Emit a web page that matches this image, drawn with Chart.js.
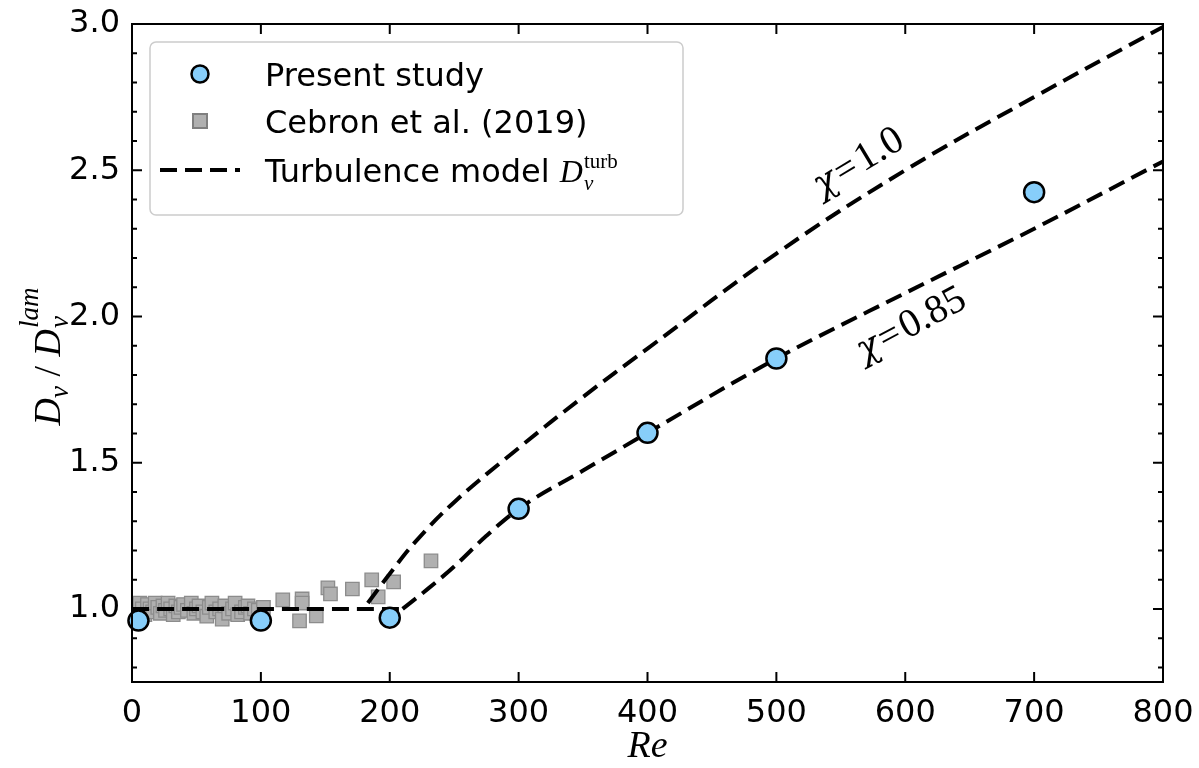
<!DOCTYPE html>
<html>
<head>
<meta charset="utf-8">
<script src="https://cdn.jsdelivr.net/npm/chart.js@4.4.1/dist/chart.umd.min.js"></script>
<style>
  html, body { margin: 0; padding: 0; background: #fff; }
  #wrap { width: 1199px; height: 768px; }
</style>
</head>
<body>
<div id="wrap"><canvas id="myChart" width="1199" height="768"></canvas></div>
<script>
// Present study (blue circles)
const presentRe = [5, 100, 200, 300, 400, 500, 700];
const presentD = [0.96, 0.96, 0.97, 1.342, 1.602, 1.856, 2.425];

// Cebron et al. (2019) (grey squares)
const cebronRe = [2, 4, 6, 8, 10, 12, 14, 16, 18, 20, 22, 24, 26, 28, 30, 32, 34, 36, 38, 40,
    43, 46, 48, 50, 52, 55, 58, 60, 62, 65, 68, 70, 72, 75, 78, 80, 82, 85, 88, 90,
    92, 95, 98, 102, 117, 132, 132, 130, 143, 152, 154, 171, 186, 191, 203, 232];
const cebronD = [1.01, 0.99, 1.02, 1.0, 0.98, 1.015, 1.0, 0.99, 1.02, 1.005, 0.985, 1.01, 0.995, 1.02, 1.0, 0.98, 1.01, 0.99, 1.005, 1.015,
    0.995, 1.02, 0.985, 1.0, 1.01, 0.99, 0.975, 1.005, 1.02, 0.99, 1.0, 0.965, 1.01, 0.985, 1.0, 1.02, 0.98, 0.99, 1.005, 1.01,
    0.985, 1.0, 0.995, 1.005, 1.031, 1.034, 1.02, 0.959, 0.976, 1.072, 1.051, 1.068, 1.099, 1.041, 1.092, 1.164];

// Turbulence model, chi = 0.85: laminar plateau, then turbulent branch
const flatRe = [0, 210];
const flatD = [1.0, 1.0];
const model085Re = [210, 230, 250, 275, 300, 350, 400, 500, 600, 700, 800];
const model085D = [1.0, 1.07, 1.145, 1.25, 1.342, 1.473, 1.602, 1.856, 2.08, 2.30, 2.53];

// Turbulence model, chi = 1.0
const model10Re = [183, 200, 220, 250, 300, 350, 400, 500, 600, 700, 800];
const model10D = [1.02, 1.12, 1.23, 1.365, 1.55, 1.725, 1.89, 2.215, 2.50, 2.75, 2.99];

const xTicks = [0, 100, 200, 300, 400, 500, 600, 700, 800];
const yTicks = [1.0, 1.5, 2.0, 2.5, 3.0];
const yTickLabels = ['1.0', '1.5', '2.0', '2.5', '3.0'];
const yMinorTicks = [0.8, 0.9, 1.1, 1.2, 1.3, 1.4, 1.6, 1.7, 1.8, 1.9, 2.1, 2.2, 2.3, 2.4, 2.6, 2.7, 2.8, 2.9];

const SANS = '"DejaVu Sans"';
const SERIF = '"Liberation Serif"';
const DASH = [17, 8];

function toPoints(xs, ys) {
    return xs.map((x, i) => ({ x: x, y: ys[i] }));
}

// draws a run of text pieces one after another, each with its own font, shift and gap
function drawPieces(ctx, pieces, x, y) {
    let cx = x;
    pieces.forEach(p => {
        ctx.font = p.font;
        cx += p.gap || 0;
        ctx.fillText(p.t, cx, y + (p.dy || 0));
        cx += ctx.measureText(p.t).width;
    });
    return cx - x;
}

function piecesWidth(ctx, pieces) {
    let w = 0;
    ctx.save();
    pieces.forEach(p => {
        ctx.font = p.font;
        w += ctx.measureText(p.t).width + (p.gap || 0);
    });
    ctx.restore();
    return w;
}

function noScalePadding(scale) {
    scale.paddingTop = 0;
    scale.paddingBottom = 0;
    scale.paddingLeft = 0;
    scale.paddingRight = 0;
}

const frameTicks = {
    id: 'frameTicks',
    afterDatasetsDraw(chart) {
        const { ctx, chartArea: a, scales: { x, y } } = chart;
        ctx.save();
        ctx.strokeStyle = '#000';
        ctx.lineWidth = 2;
        ctx.setLineDash([]);
        ctx.beginPath();
        xTicks.forEach(v => {
            const px = x.getPixelForValue(v);
            ctx.moveTo(px, a.bottom); ctx.lineTo(px, a.bottom - 10);
            ctx.moveTo(px, a.top); ctx.lineTo(px, a.top + 10);
        });
        yTicks.forEach(v => {
            const py = y.getPixelForValue(v);
            ctx.moveTo(a.left, py); ctx.lineTo(a.left + 10, py);
            ctx.moveTo(a.right, py); ctx.lineTo(a.right - 10, py);
        });
        yMinorTicks.forEach(v => {
            const py = y.getPixelForValue(v);
            ctx.moveTo(a.left, py); ctx.lineTo(a.left + 5, py);
            ctx.moveTo(a.right, py); ctx.lineTo(a.right - 5, py);
        });
        ctx.stroke();
        ctx.strokeRect(a.left, a.top, a.right - a.left, a.bottom - a.top);

        // chi labels along the two model curves
        ctx.fillStyle = '#000';
        ctx.textBaseline = 'alphabetic';
        const labels = [
            { re: 563, d: 2.53, ang: -31, num: '1.0' },
            { re: 604, d: 1.975, ang: -28, num: '0.85' }
        ];
        labels.forEach(l => {
            const pieces = [
                { t: '\u03C7', font: 'italic 36px "DejaVu Serif"' },
                { t: '=', font: '38px ' + SERIF, gap: 3 },
                { t: l.num, font: '40px ' + SERIF, gap: 3 }
            ];
            const w = piecesWidth(ctx, pieces);
            ctx.save();
            ctx.translate(x.getPixelForValue(l.re), y.getPixelForValue(l.d));
            ctx.rotate(l.ang * Math.PI / 180);
            drawPieces(ctx, pieces, -w / 2, 12);
            ctx.restore();
        });

        // axis titles
        ctx.save();
        ctx.font = 'italic 38px ' + SERIF;
        ctx.textAlign = 'center';
        ctx.fillText('Re', (a.left + a.right) / 2, 757);
        ctx.restore();

        ctx.save();
        ctx.translate(48, 356);
        ctx.rotate(-Math.PI / 2);
        ctx.textAlign = 'left';
        const yt = [
            { t: 'D', font: 'italic 38px ' + SERIF },
            { t: '\u03BD', font: 'italic 27px ' + SERIF, dy: 8 },
            { t: ' / ', font: '38px ' + SERIF },
            { t: 'D', font: 'italic 38px ' + SERIF }
        ];
        const w1 = piecesWidth(ctx, yt);
        ctx.font = 'italic 27px ' + SERIF;
        const wNu = ctx.measureText('\u03BD').width;
        const wLam = ctx.measureText('lam').width;
        const total = w1 + Math.max(wNu, wLam) + 2;
        const x0 = -total / 2;
        drawPieces(ctx, yt, x0, 12);
        ctx.font = 'italic 27px ' + SERIF;
        ctx.fillText('\u03BD', x0 + w1 + 1, 20);
        ctx.fillText('lam', x0 + w1 + 1, -10);
        ctx.restore();

        ctx.restore();
    },
    afterDraw(chart) {
        const ctx = chart.ctx;
        ctx.save();
        // legend frame
        const bx = 150, by = 42, bw = 533, bh = 173, r = 6;
        ctx.beginPath();
        ctx.moveTo(bx + r, by);
        ctx.arcTo(bx + bw, by, bx + bw, by + bh, r);
        ctx.arcTo(bx + bw, by + bh, bx, by + bh, r);
        ctx.arcTo(bx, by + bh, bx, by, r);
        ctx.arcTo(bx, by, bx + bw, by, r);
        ctx.closePath();
        ctx.fillStyle = 'rgba(255,255,255,0.8)';
        ctx.fill();
        ctx.strokeStyle = '#cccccc';
        ctx.lineWidth = 1.5;
        ctx.stroke();

        // markers
        ctx.beginPath();
        ctx.arc(200, 74, 8.5, 0, Math.PI * 2);
        ctx.fillStyle = '#87cefa';
        ctx.fill();
        ctx.lineWidth = 2.5;
        ctx.strokeStyle = '#000';
        ctx.stroke();

        ctx.fillStyle = '#b0b0b0';
        ctx.fillRect(193, 114, 14, 14);
        ctx.strokeStyle = '#7f7f7f';
        ctx.lineWidth = 2;
        ctx.strokeRect(193, 114, 14, 14);

        ctx.beginPath();
        ctx.setLineDash(DASH);
        ctx.lineWidth = 4;
        ctx.strokeStyle = '#000';
        ctx.moveTo(160, 170);
        ctx.lineTo(240, 170);
        ctx.stroke();
        ctx.setLineDash([]);

        // texts
        ctx.fillStyle = '#000';
        ctx.textBaseline = 'alphabetic';
        ctx.font = '32px ' + SANS;
        ctx.fillText('Present study', 265, 86);
        ctx.fillText('Cebron et al. (2019)', 265, 133);
        const tw = drawPieces(ctx, [{ t: 'Turbulence model ', font: '32px ' + SANS }], 265, 182);
        ctx.font = 'italic 32px ' + SERIF;
        ctx.fillText('D', 265 + tw, 182);
        const dw = ctx.measureText('D').width;
        ctx.font = 'italic 21px ' + SERIF;
        ctx.fillText('\u03BD', 265 + tw + dw + 1, 190);
        ctx.font = '21px ' + SERIF;
        ctx.fillText('turb', 265 + tw + dw + 1, 168);
        ctx.restore();
    }
};

const dashedLine = (label, xs, ys, mode) => ({
    label: label,
    data: toPoints(xs, ys),
    showLine: true,
    pointRadius: 0,
    borderColor: '#000',
    borderWidth: 4,
    borderDash: DASH,
    tension: 0.4,
    cubicInterpolationMode: mode,
    order: 1
});

const ctx = document.getElementById('myChart').getContext('2d');

let myChart = new Chart(ctx, {
    type: 'scatter',
    data: {
        datasets: [
            {
                label: 'Present study',
                data: toPoints(presentRe, presentD),
                pointStyle: 'circle',
                pointRadius: 10,
                pointBackgroundColor: '#87cefa',
                pointBorderColor: '#000',
                pointBorderWidth: 2.5,
                order: 0,
                clip: 12
            },
            dashedLine('Laminar plateau', flatRe, flatD, 'default'),
            dashedLine('Turbulence model chi=0.85', model085Re, model085D, 'monotone'),
            dashedLine('Turbulence model chi=1.0', model10Re, model10D, 'default'),
            {
                label: 'Cebron et al. (2019)',
                data: toPoints(cebronRe, cebronD),
                pointStyle: 'rect',
                pointRadius: 9.5,
                pointBackgroundColor: '#b0b0b0',
                pointBorderColor: '#8c8c8c',
                pointBorderWidth: 1.3,
                order: 2
            }
        ]
    },
    options: {
        responsive: false,
        animation: false,
        devicePixelRatio: 1,
        layout: { padding: { top: 24, right: 36, left: 0, bottom: 0 } },
        plugins: {
            legend: { display: false },
            tooltip: { enabled: false }
        },
        scales: {
            x: {
                type: 'linear',
                min: 0,
                max: 800,
                afterBuildTicks: scale => { scale.ticks = xTicks.map(v => ({ value: v })); },
                afterFit: scale => { scale.height = 86; noScalePadding(scale); },
                grid: { display: false, drawTicks: false },
                border: { display: false },
                ticks: {
                    color: '#000',
                    padding: 12,
                    maxRotation: 0,
                    font: { family: 'DejaVu Sans', size: 32 }
                }
            },
            y: {
                type: 'linear',
                min: 0.75,
                max: 3.0,
                afterBuildTicks: scale => { scale.ticks = yTicks.map(v => ({ value: v })); },
                afterFit: scale => { scale.width = 132; noScalePadding(scale); },
                grid: { display: false, drawTicks: false },
                border: { display: false },
                ticks: {
                    color: '#000',
                    padding: 12,
                    font: { family: 'DejaVu Sans', size: 32 },
                    callback: (v, i) => yTickLabels[i]
                }
            }
        }
    },
    plugins: [frameTicks]
});
</script>
</body>
</html>
